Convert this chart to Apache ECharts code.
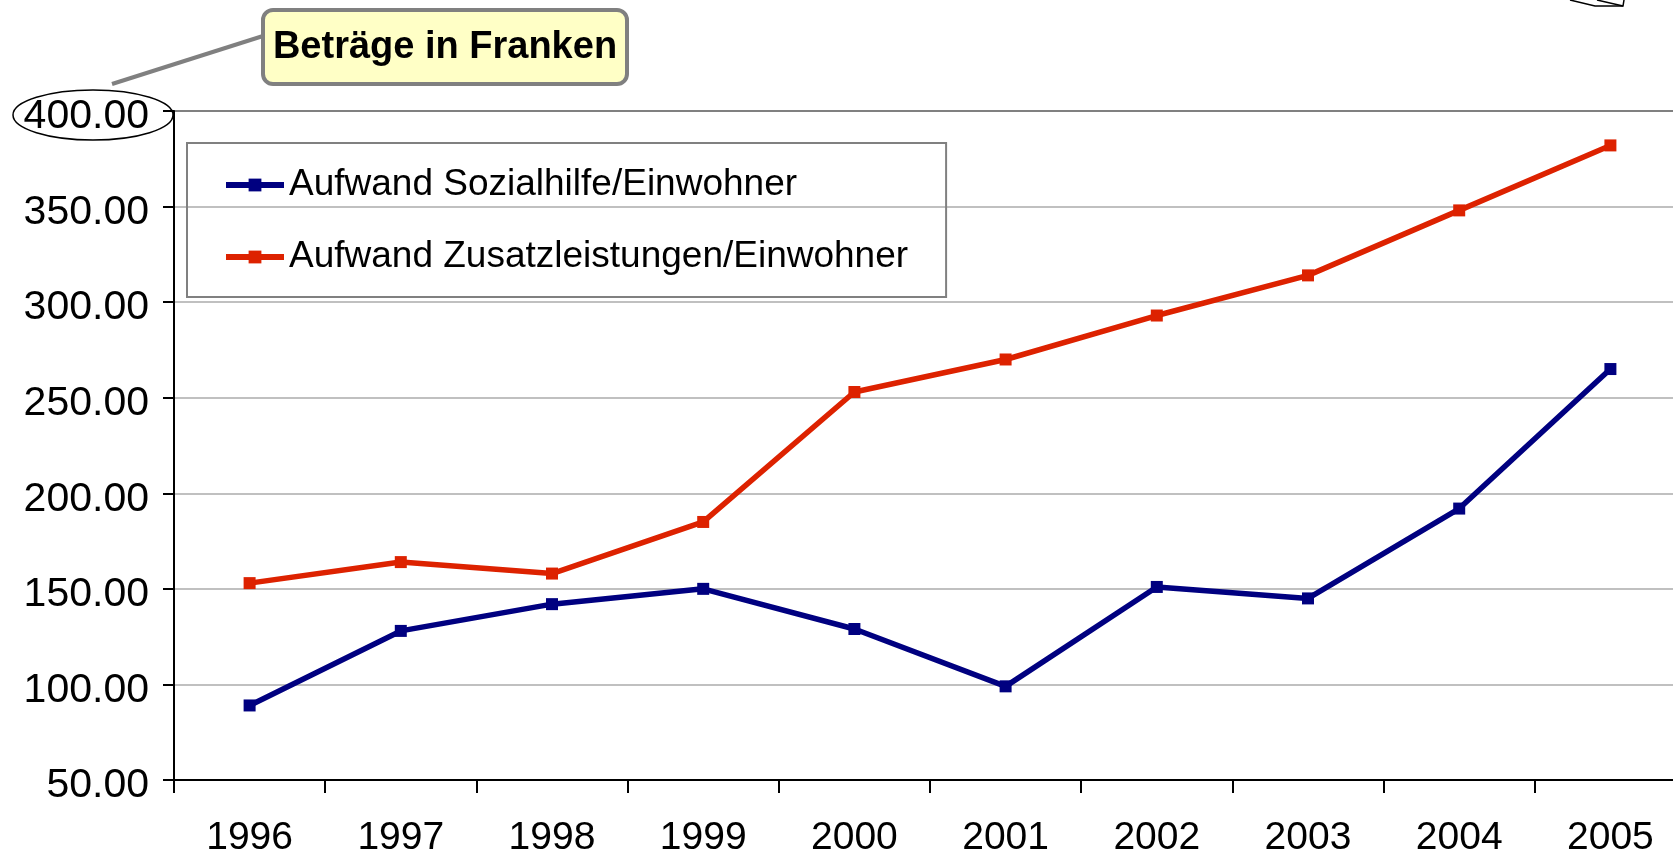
<!DOCTYPE html>
<html>
<head>
<meta charset="utf-8">
<script src="https://cdn.jsdelivr.net/npm/echarts@6/dist/echarts.min.js"></script>
<style>
  html, body { margin: 0; padding: 0; background: #fff; }
  #chart { width: 1673px; height: 851px; }
</style>
</head>
<body>
<div id="chart"></div>
<script>
// Jahre
var years = ['1996', '1997', '1998', '1999', '2000', '2001', '2002', '2003', '2004', '2005'];
// Aufwand pro Einwohner in Franken
var sozialhilfe = [89, 128, 142, 150, 129, 99, 151, 145, 192, 265];
var zusatzleistungen = [153, 164, 158, 185, 253, 270, 293, 314, 348, 382];
var seriesNames = ['Aufwand Sozialhilfe/Einwohner', 'Aufwand Zusatzleistungen/Einwohner'];
var calloutText = 'Beträge in Franken';

var font = '"Liberation Sans", Arial, sans-serif';

var myChart = echarts.init(document.getElementById('chart'));

var option = {
  animation: false,
  backgroundColor: '#fff',
  textStyle: { fontFamily: font },
  grid: { left: 174, top: 111, bottom: 71, right: -13, outerBoundsMode: 'none', containLabel: false },
  legend: {
    orient: 'vertical',
    left: 187,
    top: 143,
    padding: [20, 38, 18, 36],
    itemGap: 28,
    itemWidth: 58,
    itemHeight: 16,
    borderColor: '#808080',
    borderWidth: 2,
    lineStyle: { width: 6 },
    data: seriesNames,
    textStyle: { fontSize: 37, color: '#000', fontFamily: font, lineHeight: 44 }
  },
  xAxis: {
    type: 'category',
    data: years,
    boundaryGap: true,
    axisLine: { lineStyle: { color: '#000', width: 2 } },
    axisTick: { show: true, length: 13, lineStyle: { color: '#000', width: 2 } },
    axisLabel: { margin: 39, fontSize: 39, color: '#000', fontFamily: font }
  },
  yAxis: {
    type: 'value',
    min: 50,
    max: 400,
    interval: 50,
    axisLine: { show: true, lineStyle: { color: '#000', width: 2 } },
    axisTick: { show: true, length: 11, lineStyle: { color: '#000', width: 2 } },
    axisLabel: {
      margin: 25, color: '#000', fontFamily: font,
      formatter: function (v) { return '{v|' + v.toFixed(2) + '}'; },
      rich: {
        v: { fontSize: 41, color: '#000', fontFamily: font, padding: [12, 0, 0, 0] }
      }
    },
    splitLine: {
      lineStyle: {
        color: ['#c0c0c0', '#c0c0c0', '#c0c0c0', '#c0c0c0', '#c0c0c0', '#c0c0c0', '#c0c0c0', '#808080'],
        width: 2
      }
    }
  },
  series: [
    {
      name: seriesNames[0],
      type: 'line',
      data: sozialhilfe,
      symbol: 'rect',
      symbolSize: 12,
      color: '#000080',
      lineStyle: { width: 5.5, color: '#000080' },
      itemStyle: { color: '#000080' }
    },
    {
      name: seriesNames[1],
      type: 'line',
      data: zusatzleistungen,
      symbol: 'rect',
      symbolSize: 12,
      color: '#dd2200',
      lineStyle: { width: 5.5, color: '#dd2200' },
      itemStyle: { color: '#dd2200' }
    }
  ],
  graphic: [
    // Hinweislinie zum Kasten
    {
      type: 'line',
      shape: { x1: 263, y1: 36, x2: 112, y2: 84 },
      style: { stroke: '#808080', lineWidth: 4 }
    },
    // Ellipse um 400.00
    {
      type: 'ellipse',
      shape: { cx: 93, cy: 115, rx: 80, ry: 25 },
      style: { fill: 'none', stroke: '#000', lineWidth: 1.5 }
    },
    // Kasten "Beträge in Franken"
    {
      type: 'rect',
      shape: { x: 263, y: 10, width: 364, height: 74, r: 10 },
      style: { fill: '#ffffc6', stroke: '#808080', lineWidth: 4 },
      z: 10
    },
    {
      type: 'text',
      x: 445,
      y: 48,
      style: {
        text: calloutText,
        font: 'bold 38px ' + font,
        fill: '#000',
        textAlign: 'center',
        textVerticalAlign: 'middle'
      },
      z: 11
    },
    // Rest einer Zeichnung oben rechts
    {
      type: 'polyline',
      shape: { points: [[1570, 0], [1595, 6], [1623, 6], [1624, 0]] },
      style: { fill: 'none', stroke: '#000', lineWidth: 1.5 }
    },
    {
      type: 'line',
      shape: { x1: 1597, y1: 0, x2: 1623, y2: 6 },
      style: { stroke: '#000', lineWidth: 1.5 }
    }
  ]
};

myChart.setOption(option);
</script>
</body>
</html>
